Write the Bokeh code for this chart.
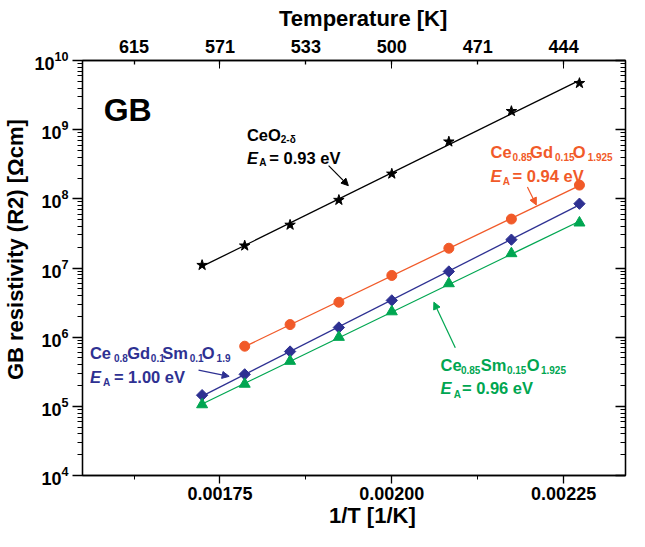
import numpy as np
from bokeh.plotting import figure
from bokeh.models import (Label, Arrow, NormalHead, LinearAxis, LogAxis, FixedTicker,
                          NumeralTickFormatter)
from bokeh.embed import file_html
from bokeh.resources import INLINE

# ---------------- data ----------------
inv_T = [0.001724, 0.001786, 0.001852, 0.001923, 0.002000, 0.002083, 0.002174, 0.002273]
ceo2 = [1.1e7, 2.1e7, 4.2e7, 9.6e7, 2.3e8, 6.7e8, 1.85e9, 4.7e9]
gdc_x = [0.001786, 0.001852, 0.001923, 0.002000, 0.002083, 0.002174, 0.002273]
gdc = [7.4e5, 1.52e6, 3.2e6, 7.8e6, 1.93e7, 5.1e7, 1.58e8]
gsdc = [1.45e5, 2.9e5, 6.2e5, 1.38e6, 3.4e6, 8.9e6, 2.57e7, 8.5e7]
sdc = [1.06e5, 2.1e5, 4.5e5, 1.0e6, 2.34e6, 5.96e6, 1.62e7, 4.5e7]

x_major = [0.00175, 0.00200, 0.00225]
x_minor = [0.001625, 0.001875, 0.002125]
top_ticks = [0.001625, 0.00175, 0.001875, 0.00200, 0.002125, 0.00225]
top_labels = ["615", "571", "533", "500", "471", "444"]
y_major = [1e4, 1e5, 1e6, 1e7, 1e8, 1e9, 1e10]
y_minor = [k * 10.0 ** n for n in range(4, 10) for k in range(2, 10)]

BLACK = "#000000"
ORANGE = "#F15A29"
NAVY = "#2E3192"
GREEN = "#00A651"
FONT = "Liberation Sans"
NB = "\u00a0"

p = figure(width=629, height=531, x_range=(0.00155, 0.00234), y_range=(1e4, 1e10),
           y_axis_type="log", output_backend="svg", toolbar_location=None,
           min_border_left=79, min_border_right=4, min_border_top=60, min_border_bottom=56)
p.outline_line_color = "black"
p.outline_line_width = 1.3
p.xgrid.visible = False
p.ygrid.visible = False


def style_axis(ax, size="18px"):
    ax.axis_line_color = "black"
    ax.axis_line_width = 1.3
    ax.major_tick_line_color = "black"
    ax.minor_tick_line_color = "black"
    ax.major_tick_line_width = 1.3
    ax.minor_tick_line_width = 1.0
    ax.major_label_text_font = FONT
    ax.major_label_text_font_style = "bold"
    ax.major_label_text_font_size = size
    ax.major_label_text_color = "black"
    ax.axis_label_text_font = FONT
    ax.axis_label_text_font_style = "bold"
    ax.axis_label_text_font_size = "22px"
    ax.axis_label_text_color = "black"


xa = p.xaxis[0]
xa.ticker = FixedTicker(ticks=x_major, minor_ticks=x_minor)
xa.formatter = NumeralTickFormatter(format="0.00000")
style_axis(xa)
xa.major_tick_out = 8
xa.major_tick_in = 0
xa.minor_tick_out = 4
xa.minor_tick_in = 0
xa.major_label_standoff = 3
xa.axis_label = NB * 6 + "1/T [1/K]"
xa.axis_label_standoff = 0

ya = p.yaxis[0]
ya.ticker = FixedTicker(ticks=y_major, minor_ticks=y_minor)
style_axis(ya)
ya.major_tick_out = 10
ya.major_tick_in = 0
ya.minor_tick_out = 5
ya.minor_tick_in = 0
ya.major_label_standoff = 4
ya.axis_label = NB * 6 + "GB resistivity (R2) [Ωcm]"
ya.axis_label_standoff = 3

top = LinearAxis(ticker=FixedTicker(ticks=top_ticks, minor_ticks=x_major),
                 major_label_overrides=dict(zip(top_ticks, top_labels)))
style_axis(top)
top.major_tick_in = 4
top.major_tick_out = 0
top.minor_tick_in = 8
top.minor_tick_out = 0
top.major_label_standoff = 8
top.axis_label = NB * 3 + "Temperature [K]"
top.axis_label_standoff = 6
p.add_layout(top, "above")

right = LogAxis(ticker=FixedTicker(ticks=y_major, minor_ticks=y_minor))
style_axis(right, size="1px")
right.major_label_text_alpha = 0
right.major_tick_in = 10
right.major_tick_out = 0
right.minor_tick_in = 5
right.minor_tick_out = 0
right.major_label_standoff = 0
p.add_layout(right, "right")


# ---------------- series: Arrhenius fit line + measured points ----------------
def fit_line(xs, ys, color):
    k, b = np.polyfit(np.array(xs), np.log10(np.array(ys)), 1)
    xe = np.array([xs[0], xs[-1]])
    p.line(xe, 10 ** (k * xe + b), line_color=color, line_width=1.3)


fit_line(inv_T, ceo2, BLACK)
p.scatter(inv_T, ceo2, marker="star", size=11, color=BLACK)
fit_line(gdc_x, gdc, ORANGE)
p.scatter(gdc_x, gdc, marker="circle", size=10, color=ORANGE)
fit_line(inv_T, gsdc, NAVY)
p.scatter(inv_T, gsdc, marker="square", angle=np.pi / 4, size=8, color=NAVY)
fit_line(inv_T, sdc, GREEN)
p.scatter(inv_T, sdc, marker="triangle", size=11, color=GREEN)


# ---------------- annotations (positions in reference pixels) ----------------
def X(px):
    return 0.00175 + (px - 226.7) / 696000.0


def Y(py):
    return 10 ** (4 + (482.7 - py) / 69.2)


def txt(text, px, py, size, color, style="bold", align="left", baseline="alphabetic"):
    p.add_layout(Label(x=X(px), y=Y(py), text=text, text_font=FONT, text_font_size=size,
                       text_font_style=style, text_color=color, text_align=align,
                       text_baseline=baseline))


M, S = "16.5px", "10px"

# GB
txt("GB", 109, 117, "32px", BLACK)

# CeO2-δ
txt("CeO", 254, 141.7, M, BLACK)
txt("2-δ", 288.3, 146.5, S, BLACK)
txt("E", 254, 165, M, BLACK, style="bold italic")
txt("A", 266.5, 170, S, BLACK)
txt("= 0.93 eV", 276.7, 165, M, BLACK)

# Ce0.85Gd0.15O1.925
txt("Ce", 500.7, 158.7, M, ORANGE)
txt("0.85", 523, 163.7, S, ORANGE)
txt("Gd", 540.7, 158.7, M, ORANGE)
txt("0.15", 566, 163.7, S, ORANGE)
txt("O", 584, 158.7, M, ORANGE)
txt("1.925", 599, 163.7, S, ORANGE)
txt("E", 500.7, 183.5, M, ORANGE, style="bold italic")
txt("A", 513, 188.5, S, ORANGE)
txt("= 0.94 eV", 523, 183.5, M, ORANGE)

# Ce0.8Gd0.1Sm0.1O1.9
txt("Ce", 95, 360, M, NAVY)
txt("0.8", 119.3, 365, S, NAVY)
txt("Gd", 132.7, 360, M, NAVY)
txt("0.1", 156.7, 365, S, NAVY)
txt("Sm", 168.3, 360, M, NAVY)
txt("0.1", 196, 365, S, NAVY)
txt("O", 208.3, 360, M, NAVY)
txt("1.9", 223.3, 365, S, NAVY)
txt("E", 95, 384, M, NAVY, style="bold italic")
txt("A", 108.3, 389.3, S, NAVY)
txt("= 1.00 eV", 119.3, 384, M, NAVY)

# Ce0.85Sm0.15O1.925
txt("Ce", 450, 371.7, M, GREEN)
txt("0.85", 470.7, 377.3, S, GREEN)
txt("Sm", 490.7, 371.7, M, GREEN)
txt("0.15", 517.3, 377.3, S, GREEN)
txt("O", 537.3, 371.7, M, GREEN)
txt("1.925", 551.7, 377.3, S, GREEN)
txt("E", 450, 395, M, GREEN, style="bold italic")
txt("A", 463.3, 401.7, S, GREEN)
txt("= 0.96 eV", 471.7, 395, M, GREEN)

# arrows
for (x0, y0, x1, y1, c) in [(336.7, 172.7, 356.7, 192.7, BLACK),
                            (538, 194, 547, 212, ORANGE),
                            (205, 377.3, 236, 383.5, NAVY),
                            (465, 355, 443.3, 309.3, GREEN)]:
    p.add_layout(Arrow(end=NormalHead(size=7, fill_color=c, line_color=c, line_width=1),
                       x_start=X(x0), y_start=Y(y0), x_end=X(x1), y_end=Y(y1),
                       line_color=c, line_width=1.2))

open("out.html", "w").write(file_html(p, INLINE))
